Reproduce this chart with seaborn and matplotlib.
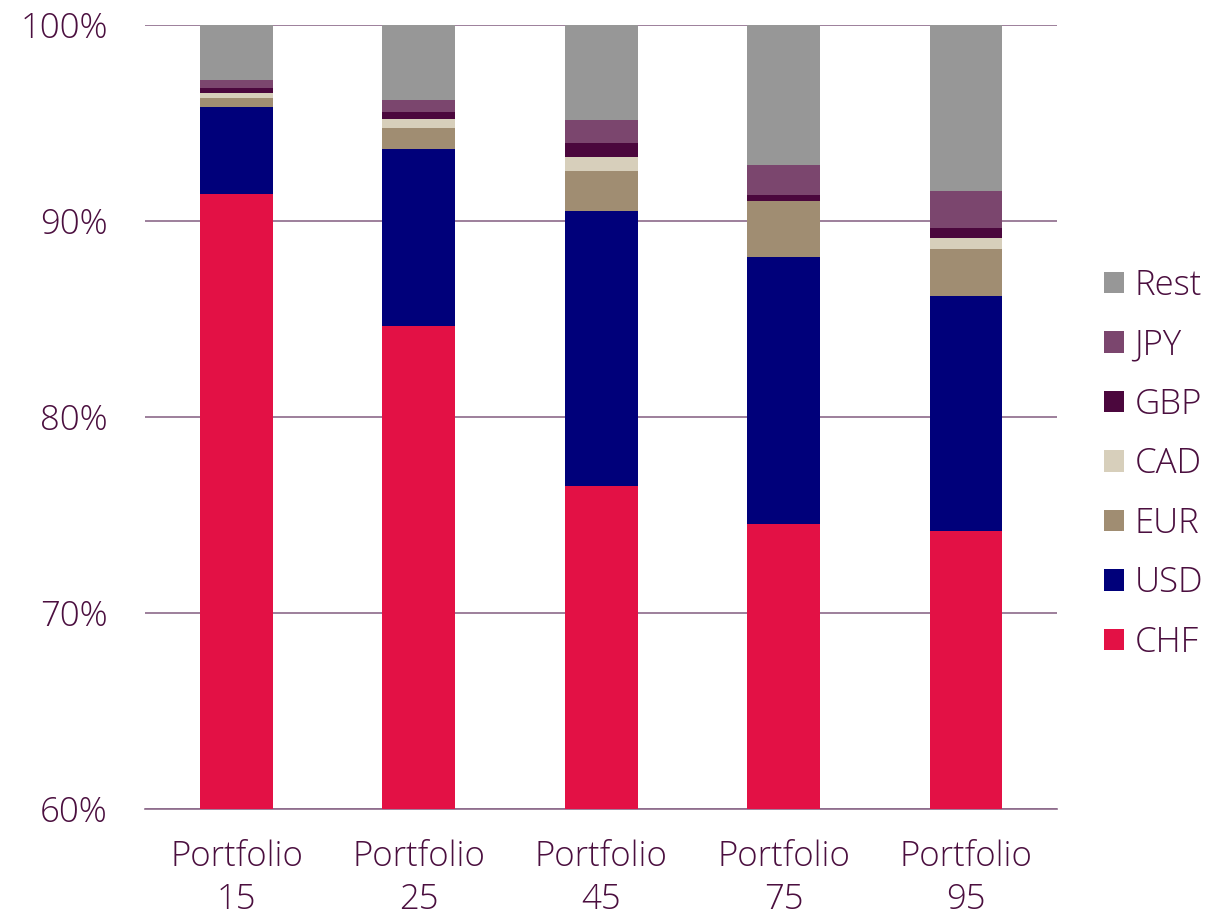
import numpy as np
import pandas as pd
import matplotlib.pyplot as plt
from matplotlib.patches import Patch
import seaborn as sns

portfolios = ["Portfolio\n15", "Portfolio\n25", "Portfolio\n45", "Portfolio\n75", "Portfolio\n95"]
currencies = ["CHF", "USD", "EUR", "CAD", "GBP", "JPY", "Rest"]

chf  = [91.36, 84.64, 76.48, 74.54, 74.18]
usd  = [4.46, 9.02, 14.00, 13.62, 11.96]
eur  = [0.46, 1.05, 2.04, 2.83, 2.40]
cad  = [0.22, 0.48, 0.75, 0.00, 0.56]
gbp  = [0.27, 0.36, 0.70, 0.32, 0.53]
jpy  = [0.42, 0.63, 1.16, 1.51, 1.87]
rest = [2.81, 3.82, 4.87, 7.18, 8.50]

colors = {"CHF": "#E31145", "USD": "#00007A", "EUR": "#A08D72", "CAD": "#D7CFBB",
          "GBP": "#4B073D", "JPY": "#7B466E", "Rest": "#979797"}
TEXT = "#4B0F3F"
GRID = "#8C6A8A"
FS = 25

sns.set_theme(style="white")
plt.rcParams["font.family"] = ["Open Sans", "DejaVu Sans"]
plt.rcParams["font.weight"] = "light"

df = pd.DataFrame({"portfolio": portfolios, "CHF": chf, "USD": usd, "EUR": eur,
                   "CAD": cad, "GBP": gbp, "JPY": jpy, "Rest": rest})
cum = df[currencies].cumsum(axis=1)

fig, ax = plt.subplots(figsize=(12.11, 9.15), dpi=100)
fig.subplots_adjust(left=0.12, right=0.873, top=0.973, bottom=0.116)

# draw cumulative totals from the top segment down so each layer covers the next
for cur in currencies[::-1]:
    sns.barplot(x=df["portfolio"], y=cum[cur], color=colors[cur], width=0.4,
                saturation=1, ax=ax, zorder=3, edgecolor="none")

ax.set_ylim(60, 100)
ax.set_xlim(-0.5, 4.5)
ax.set_yticks([60, 70, 80, 90, 100])
ax.set_yticklabels([f"{v}%" for v in [60, 70, 80, 90, 100]])
ax.yaxis.grid(True, color=GRID, linewidth=1.2, zorder=0)
ax.set_axisbelow(True)
for s in ["top", "right", "left"]:
    ax.spines[s].set_visible(False)
ax.spines["bottom"].set_color(GRID)
ax.spines["bottom"].set_linewidth(1.2)
ax.tick_params(axis="both", length=0, labelsize=FS, colors=TEXT)
ax.tick_params(axis="x", pad=22)
ax.tick_params(axis="y", pad=27)
for lbl in ax.get_xticklabels() + ax.get_yticklabels():
    lbl.set_fontweight("light")
for lbl in ax.get_xticklabels():
    lbl.set_linespacing(1.32)
ax.set_xlabel("")
ax.set_ylabel("")

handles = [Patch(facecolor=colors[c], edgecolor="none", label=c) for c in currencies[::-1]]
leg = ax.legend(handles=handles, loc="center left", bbox_to_anchor=(1.017, 0.44),
                frameon=False, fontsize=FS, handlelength=0.58, handleheight=0.58,
                handletextpad=0.3, labelspacing=0.72)
for t in leg.get_texts():
    t.set_color(TEXT)
    t.set_fontweight("light")

plt.savefig("out.png", dpi=100)
